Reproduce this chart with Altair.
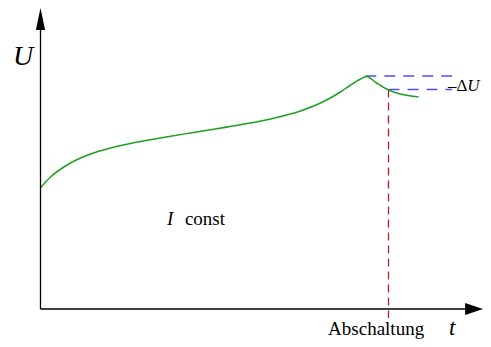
import altair as alt
import pandas as pd

# ---- data (time t and voltage U in arbitrary units) ----
curve_t = [0, 0.25, 0.75, 1.25, 1.75, 2.25, 2.75, 3.25, 3.75, 4.25, 5.0, 5.75,
           6.5, 7.0, 7.5, 7.75, 8.0, 8.15, 8.4, 8.7, 9.0, 9.45]
curve_u = [4.85, 5.28, 5.84, 6.2, 6.44, 6.62, 6.77, 6.91, 7.04, 7.17, 7.37, 7.6,
           7.92, 8.24, 8.68, 8.96, 9.2, 9.3, 9.04, 8.76, 8.6, 8.48]

level_t_start = [8.12, 8.7]
level_t_end = [10.29, 10.29]
level_u = [9.32, 8.78]

switch_t = [8.7]
switch_u_top = [8.78]
switch_u_bottom = [-0.36]

axis_x1 = [0, 0]
axis_y1 = [0, 0]
axis_x2 = [0, 10.64]
axis_y2 = [11.16, 0]

# labels
it_text = ["U", "t", "I", "U"]
it_t = [-0.69, 10.21, 3.16, 10.67]
it_u = [9.76, -1.04, 3.36, 8.72]
it_size = [28, 23, 19, 17]

up_text = ["Abschaltung", "const", "\u2013\u0394"]
up_t = [7.19, 3.61, 10.19]
up_u = [-1.04, 3.36, 8.72]
up_size = [19, 19, 17]

xs = alt.Scale(domain=[-0.8125, 11.0625], nice=False, zero=False)
ys = alt.Scale(domain=[-1.2, 12.04], nice=False, zero=False)


def X(f):
    return alt.X(f, type="quantitative", scale=xs, axis=None)


def Y(f):
    return alt.Y(f, type="quantitative", scale=ys, axis=None)


axes = alt.Chart(pd.DataFrame({"x": axis_x1, "y": axis_y1, "x2": axis_x2, "y2": axis_y2})).mark_rule(
    color="black", strokeWidth=1.3
).encode(x=X("x"), y=Y("y"), x2="x2", y2="y2")

arrow_y = alt.Chart(pd.DataFrame({"x": [0], "y": [11.6]})).mark_point(
    shape="M0,-1L0.42,1L-0.42,1Z", filled=True, color="black", opacity=1, size=484, strokeWidth=0
).encode(x=X("x"), y=Y("y"))

arrow_x = alt.Chart(pd.DataFrame({"x": [10.84], "y": [0]})).mark_point(
    shape="M1,0L-1,0.667L-1,-0.667Z", filled=True, color="black", opacity=1, size=324, strokeWidth=0
).encode(x=X("x"), y=Y("y"))

curve = alt.Chart(pd.DataFrame({"t": curve_t, "u": curve_u})).mark_line(
    color="#1f9f1f", strokeWidth=1.5, interpolate="monotone"
).encode(x=X("t"), y=Y("u"), order="t:Q")

levels = alt.Chart(pd.DataFrame({"t": level_t_start, "t2": level_t_end, "u": level_u})).mark_rule(
    color="#4d4dff", strokeWidth=1.5, strokeDash=[11, 8]
).encode(x=X("t"), x2="t2", y=Y("u"))

switch = alt.Chart(pd.DataFrame({"t": switch_t, "u": switch_u_top, "u2": switch_u_bottom})).mark_rule(
    color="#b22222", strokeWidth=1.3, strokeDash=[8, 5]
).encode(x=X("t"), y=Y("u"), y2="u2")

it_labels = alt.Chart(pd.DataFrame({"s": it_text, "t": it_t, "u": it_u, "f": it_size})).mark_text(
    font="Liberation Serif", fontStyle="italic", align="left", baseline="alphabetic", color="black"
).encode(x=X("t"), y=Y("u"), text="s:N", size=alt.Size("f:Q", scale=None, legend=None))

up_labels = alt.Chart(pd.DataFrame({"s": up_text, "t": up_t, "u": up_u, "f": up_size})).mark_text(
    font="Liberation Serif", align="left", baseline="alphabetic", color="black"
).encode(x=X("t"), y=Y("u"), text="s:N", size=alt.Size("f:Q", scale=None, legend=None))

chart = alt.layer(
    levels, switch, curve, axes, arrow_y, arrow_x, it_labels, up_labels
).properties(
    width=475, height=331, padding=0, autosize=alt.AutoSizeParams(type="none")
).configure_view(stroke=None)

chart.save("out.html", embed_options={"renderer": "svg", "actions": False})
